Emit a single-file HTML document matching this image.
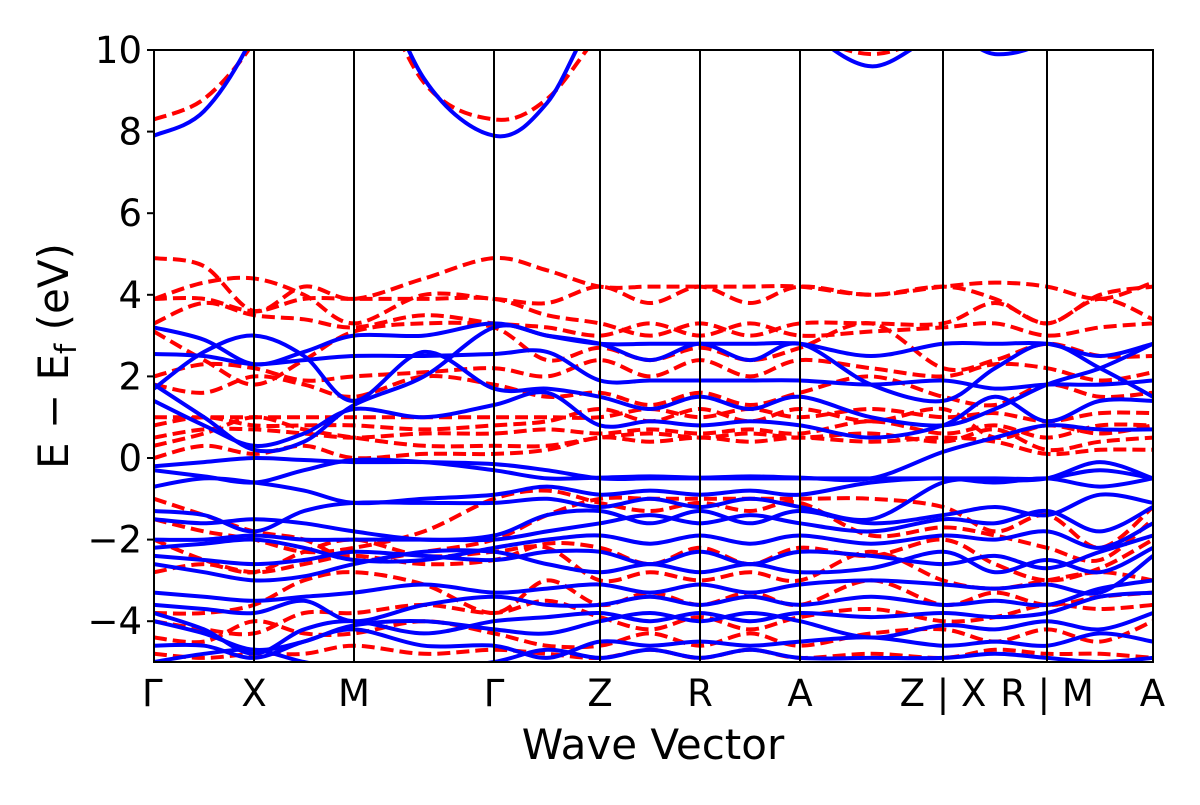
<!DOCTYPE html>
<html><head><meta charset="utf-8"><style>
body{margin:0;background:#fff;}
svg text{font-family:"DejaVu Sans","Liberation Sans",sans-serif;fill:#000;}
</style></head><body>
<svg id="chart" width="1200" height="800" viewBox="0 0 1200 800" xmlns="http://www.w3.org/2000/svg">
<defs><clipPath id="pc"><rect x="154" y="50" width="999" height="612"/></clipPath></defs>
<g id="bands" clip-path="url(#pc)"></g>
<g id="axes"></g>
</svg>
<script>
const kSamples=[0,0.5,1,1.5,2,2.7,3.4,3.93,4.46,4.96,5.46,5.96,6.46,7.17,7.89,8.41,8.93,9.46,9.99];
const kTickPos=[0,1,2,3.4,4.46,5.46,6.46,7.89,8.93,9.99];
const kTickLabels=["Γ","X","M","Γ","Z","R","A","Z | X","R | M","A"];
const yTicks=[-4,-2,0,2,4,6,8,10];
const yTickLabels=["−4","−2","0","2","4","6","8","10"];
const blueBands=[
[7.9,8.5,10.4,13.5,13,9.3,7.9,8.7,11,11.5,11.5,11.5,10.6,9.6,10.4,9.9,10.2,11,11],
[3.2,2.9,2.3,2.6,3.0,3.0,3.3,3.0,2.8,2.8,2.8,2.8,2.8,2.5,2.8,2.8,2.8,2.5,2.8],
[2.55,2.5,2.3,2.4,2.5,2.5,2.55,2.6,1.9,1.9,1.9,1.9,1.9,1.8,1.9,1.7,1.8,1.8,1.9],
[1.8,1.0,0.2,0.4,1.3,2.0,3.2,3.0,2.8,2.4,2.8,2.4,2.8,1.8,1.4,2.2,2.8,2.2,1.5],
[1.7,2.6,3.0,2.5,1.4,2.6,1.7,1.7,1.5,1.2,1.5,1.2,1.5,1.0,0.8,1.2,1.8,2.2,2.8],
[1.4,0.8,0.3,0.6,1.2,1.0,1.3,1.6,0.8,0.9,0.8,0.9,0.8,0.5,0.8,1.5,0.9,1.4,1.4],
[-0.2,-0.1,0.0,-0.05,-0.1,-0.1,-0.15,-0.3,-0.5,-0.5,-0.5,-0.5,-0.5,-0.5,-0.5,-0.5,-0.5,-0.3,-0.5],
[-0.3,-0.45,-0.6,-0.3,-0.05,-0.1,-0.3,-0.5,-0.48,-0.45,-0.48,-0.45,-0.48,-0.5,0.15,0.5,0.8,0.7,0.7],
[-0.7,-0.5,-0.6,-0.8,-1.1,-1.0,-0.9,-0.7,-0.9,-0.8,-0.9,-0.8,-0.9,-0.6,-0.5,-0.6,-0.5,-0.7,-0.5],
[-1.3,-1.4,-1.8,-1.3,-1.1,-1.1,-1.1,-1.0,-1.2,-1.0,-1.2,-1.0,-1.2,-1.5,-0.6,-0.55,-0.5,-0.1,-0.5],
[-1.5,-1.6,-1.5,-1.6,-1.8,-2.0,-1.9,-1.4,-1.3,-1.6,-1.3,-1.6,-1.3,-1.6,-1.4,-1.2,-1.4,-0.9,-1.1],
[-2.0,-2.0,-1.9,-2.0,-2.0,-2.0,-2.0,-1.8,-1.6,-1.4,-1.6,-1.4,-1.6,-1.8,-1.5,-1.6,-1.3,-1.8,-1.2],
[-2.2,-2.1,-2.0,-2.2,-2.5,-2.5,-2.2,-2.0,-1.9,-2.1,-1.9,-2.1,-1.9,-2.1,-1.9,-2.0,-1.8,-2.2,-1.6],
[-2.4,-2.5,-2.6,-2.5,-2.3,-2.4,-2.5,-2.3,-2.3,-2.6,-2.3,-2.6,-2.3,-2.4,-2.6,-2.4,-2.7,-2.3,-1.9],
[-2.6,-2.8,-3.0,-2.9,-2.6,-2.3,-2.3,-2.6,-2.8,-2.6,-2.8,-2.6,-2.8,-2.7,-2.3,-2.8,-2.5,-2.8,-2.2],
[-3.3,-3.4,-3.5,-3.4,-3.3,-3.1,-3.3,-3.2,-3.1,-3.3,-3.1,-3.3,-3.1,-3.0,-3.1,-3.2,-3.1,-3.3,-2.4],
[-3.6,-3.7,-3.8,-3.5,-4.0,-3.6,-3.4,-3.6,-3.6,-3.4,-3.6,-3.4,-3.6,-3.4,-3.6,-3.5,-3.6,-3.2,-3.0],
[-3.8,-4.2,-4.8,-4.2,-4.0,-4.3,-4.0,-3.9,-3.8,-4.0,-3.8,-4.0,-3.8,-3.9,-3.8,-3.9,-3.8,-3.4,-3.3],
[-4.0,-4.3,-4.7,-4.5,-4.1,-4.0,-4.2,-4.3,-4.0,-3.8,-4.0,-3.8,-4.0,-4.4,-4.1,-4.2,-4.0,-4.2,-3.8],
[-4.6,-4.6,-4.9,-4.5,-4.2,-4.6,-4.6,-4.9,-4.5,-4.6,-4.5,-4.6,-4.5,-4.4,-4.6,-4.5,-4.6,-4.3,-4.5],
[-5.0,-4.8,-4.7,-5.0,-5.2,-5.2,-5.0,-4.7,-4.9,-4.7,-4.9,-4.7,-4.9,-4.9,-4.9,-4.8,-4.9,-5.0,-4.9]
];
const redBands=[
[8.3,8.8,10.2,12.5,12.5,9.2,8.3,8.8,10.4,11.5,11.5,11.5,10.5,9.9,10.4,10.5,11,11,11],
[4.9,4.7,3.6,4.2,3.9,4.4,4.9,4.6,4.2,4.2,4.2,4.2,4.2,4.0,4.2,4.3,4.2,3.9,4.3],
[3.9,4.3,4.4,4.0,3.3,4.0,3.9,3.8,4.2,3.8,4.2,3.8,4.2,4.0,4.2,3.9,3.3,4.0,4.2],
[3.9,3.9,3.6,3.9,3.9,3.9,3.9,3.5,3.3,3.0,3.3,3.0,3.3,3.3,3.3,3.8,3.3,3.9,3.4],
[3.3,3.8,3.5,3.4,3.2,3.5,3.3,3.2,3.0,3.3,3.0,3.3,3.0,3.1,3.2,3.3,3.0,3.2,3.3],
[3.1,2.4,1.8,2.4,3.1,3.3,3.2,2.4,2.7,2.4,2.7,2.4,2.7,3.3,2.2,2.4,2.8,2.5,2.5],
[2.0,2.3,2.2,1.9,2.0,2.1,2.2,2.0,2.4,2.0,2.4,2.0,2.4,2.2,2.0,2.3,2.2,1.9,2.1],
[1.8,1.6,2.0,1.8,1.5,2.0,1.8,1.5,1.6,1.3,1.6,1.3,1.6,2.0,1.5,1.3,1.8,1.5,1.6],
[1.0,1.0,1.0,1.0,1.0,1.0,1.0,1.0,1.0,1.2,1.0,1.2,1.0,1.2,1.0,1.1,0.9,1.1,1.1],
[0.8,1.0,0.8,0.8,0.8,0.7,0.8,0.9,1.2,0.9,1.2,0.9,1.2,0.9,1.2,0.5,0.8,0.6,0.8],
[0.5,0.7,0.7,0.6,0.5,0.6,0.6,0.7,0.6,0.7,0.6,0.7,0.6,0.9,0.6,0.8,0.5,0.8,0.8],
[0.3,0.6,1.0,0.7,0.5,0.3,0.3,0.3,0.5,0.6,0.5,0.6,0.5,0.6,0.4,0.7,0.2,0.4,0.5],
[0.0,0.3,0.1,0.3,0.0,0.1,0.1,0.2,0.5,0.4,0.5,0.4,0.5,0.4,0.5,0.4,0.1,0.2,0.2],
[-1.0,-1.4,-1.8,-2.0,-2.5,-2.3,-2.0,-1.4,-1.0,-1.0,-1.0,-1.0,-1.0,-1.0,-1.2,-1.8,-1.4,-2.2,-1.2],
[-1.5,-1.8,-2.0,-2.3,-2.2,-1.8,-1.0,-0.8,-1.1,-1.3,-1.1,-1.3,-1.1,-1.9,-1.7,-1.9,-2.2,-2.5,-1.5],
[-2.0,-2.5,-2.8,-2.6,-2.4,-2.6,-2.5,-2.1,-2.2,-2.6,-2.2,-2.6,-2.2,-2.4,-2.0,-2.6,-3.0,-2.7,-2.0],
[-2.8,-2.6,-2.8,-2.3,-2.0,-2.4,-2.3,-2.2,-3.0,-2.8,-3.0,-2.8,-3.0,-2.3,-3.0,-3.2,-3.0,-2.8,-3.0],
[-3.8,-3.8,-3.6,-3.0,-2.8,-3.1,-3.8,-3.0,-3.6,-3.3,-3.6,-3.3,-3.6,-3.0,-3.6,-3.3,-3.6,-3.4,-3.3],
[-4.0,-4.2,-4.3,-3.8,-3.8,-3.6,-3.8,-3.5,-3.9,-4.2,-3.9,-4.2,-3.9,-3.7,-4.0,-3.9,-3.6,-3.7,-3.6],
[-4.4,-4.5,-4.0,-4.3,-4.3,-4.0,-4.3,-4.6,-4.6,-4.3,-4.6,-4.3,-4.6,-4.3,-4.2,-4.5,-4.2,-4.5,-4.0],
[-4.8,-4.9,-4.8,-4.8,-4.6,-4.8,-4.7,-4.8,-4.9,-4.7,-4.9,-4.7,-4.9,-4.8,-4.9,-4.7,-4.8,-4.8,-4.9]
];
const NS="http://www.w3.org/2000/svg";
const X0=154,X1=1153,Y0=662,Y1=50,KMAX=9.99,EMIN=-5,EMAX=10;
function xs(k){return X0+(k/KMAX)*(X1-X0);}
function ys(e){return Y0-(e-EMIN)/(EMAX-EMIN)*(Y0-Y1);}
function pathFor(vals){
  const p=vals.map((v,i)=>[xs(kSamples[i]),ys(v)]);
  let d="M"+p[0][0].toFixed(1)+","+p[0][1].toFixed(1);
  for(let i=0;i<p.length-1;i++){
    const a=p[Math.max(0,i-1)],b=p[i],c=p[i+1],e=p[Math.min(p.length-1,i+2)];
    const c1x=b[0]+(c[0]-a[0])/6,c1y=b[1]+(c[1]-a[1])/6;
    const c2x=c[0]-(e[0]-b[0])/6,c2y=c[1]-(e[1]-b[1])/6;
    d+=" C"+c1x.toFixed(1)+","+c1y.toFixed(1)+" "+c2x.toFixed(1)+","+c2y.toFixed(1)+" "+c[0].toFixed(1)+","+c[1].toFixed(1);
  }
  return d;
}
const bands=document.getElementById('bands');
const axes=document.getElementById('axes');
redBands.forEach((b,i)=>{
  const el=document.createElementNS(NS,'path');
  
  
  el.setAttribute('d',pathFor(b));
  el.setAttribute('fill','none');el.setAttribute('stroke','#ff0000');
  el.setAttribute('stroke-width','4');el.setAttribute('stroke-dasharray','13,6');
  bands.appendChild(el);
});
blueBands.forEach((b,i)=>{
  const el=document.createElementNS(NS,'path');
  
  
  el.setAttribute('d',pathFor(b));
  el.setAttribute('fill','none');el.setAttribute('stroke','#0000ff');
  el.setAttribute('stroke-width','4');
  bands.appendChild(el);
});
kTickPos.forEach((k,i)=>{
  if(i>0&&i<kTickPos.length-1){
    const l=document.createElementNS(NS,'line');
    
    
    l.setAttribute('x1',xs(k));l.setAttribute('x2',xs(k));l.setAttribute('y1',Y1);l.setAttribute('y2',Y0);
    l.setAttribute('stroke','#000');l.setAttribute('stroke-width','2');
    axes.appendChild(l);
  }
  const t=document.createElementNS(NS,'text');
  
  
  t.setAttribute('x',xs(k));t.setAttribute('y',706);t.setAttribute('font-size','37');
  t.setAttribute('text-anchor',i==0?'start':(i==kTickPos.length-1?'end':'middle'));
  if(i==0)t.setAttribute('x',xs(k)-12);
  if(i==kTickPos.length-1)t.setAttribute('x',xs(k)+12);
  t.textContent=kTickLabels[i];
  axes.appendChild(t);
});
yTicks.forEach((v,i)=>{
  const l=document.createElementNS(NS,'line');
  
  
  l.setAttribute('x1',X0-7);l.setAttribute('x2',X0);l.setAttribute('y1',ys(v));l.setAttribute('y2',ys(v));
  l.setAttribute('stroke','#000');l.setAttribute('stroke-width','2');
  axes.appendChild(l);
  const t=document.createElementNS(NS,'text');
  
  
  t.setAttribute('x',X0-12);t.setAttribute('y',ys(v)+13);t.setAttribute('font-size','37');
  t.setAttribute('text-anchor','end');
  t.textContent=yTickLabels[i];
  axes.appendChild(t);
});
const frame=document.createElementNS(NS,'rect');


frame.setAttribute('x',X0);frame.setAttribute('y',Y1);frame.setAttribute('width',X1-X0);frame.setAttribute('height',Y0-Y1);
frame.setAttribute('fill','none');frame.setAttribute('stroke','#000');frame.setAttribute('stroke-width','2');
axes.appendChild(frame);
</script>
<svg style="position:absolute;left:0;top:0" width="1200" height="800">
<text x="653" y="759" font-size="42" text-anchor="middle" style="font-family:'DejaVu Sans','Liberation Sans',sans-serif">Wave Vector</text>
<text transform="translate(68,356) rotate(-90)" font-size="42" text-anchor="middle" style="font-family:'DejaVu Sans','Liberation Sans',sans-serif">E − E<tspan font-size="29" dy="8">f</tspan><tspan dy="-8"> (eV)</tspan></text>
</svg>
</body></html>
